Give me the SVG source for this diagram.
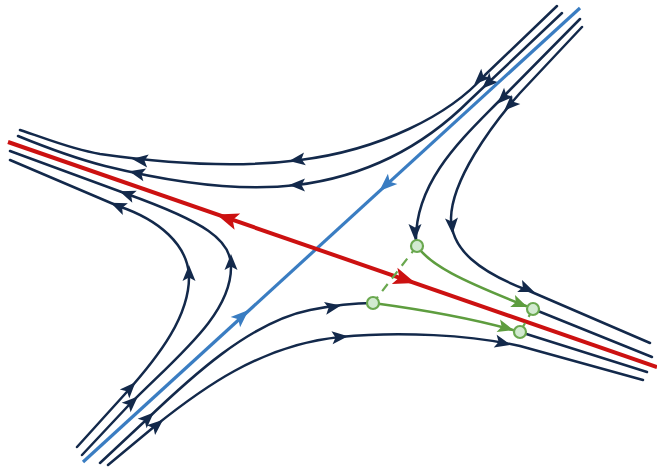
<svg xmlns="http://www.w3.org/2000/svg" xmlns:xlink="http://www.w3.org/1999/xlink" width="657" height="471" viewBox="0 0 657 471">
<style>
.traj{fill:none;stroke:#13294b;stroke-width:2.5;stroke-linecap:round;stroke-linejoin:round}
.red{fill:none;stroke:#cc1111;stroke-width:4;stroke-linecap:butt}
.blue{fill:none;stroke:#3a7dc2;stroke-width:3.2;stroke-linecap:butt}
.grn{fill:none;stroke:#5e9d3f;stroke-width:2.6;stroke-linecap:round}
.dash{fill:none;stroke:#6aa84f;stroke-width:2.2;stroke-dasharray:9,7}
.pt{fill:#d2ead0;stroke:#6aa84f;stroke-width:2.2}
</style>
<defs>
<path id="ahN" d="M8,0 L-8,-6.5 L-4.5,0 L-8,6.5 Z" fill="#13294b"/>
<path id="ahR" d="M11,0 L-11,-8.5 L-6,0 L-11,8.5 Z" fill="#cc1111"/>
<path id="ahB" d="M9,0 L-9,-7 L-5,0 L-9,7 Z" fill="#3a7dc2"/>
<path id="ahG" d="M8,0 L-8,-6.5 L-4.5,0 L-8,6.5 Z" fill="#5e9d3f"/>
</defs>
<rect width="657" height="471" fill="#ffffff"/>

<g id="connectors">
  <g id="top-outer">
    <path class="traj" d="M557,6 L485,75 C450,115 380,150 300,160 C240,168 170,164 100,154 C70,149 45,138 20,130"/>
    <use href="#ahN" transform="translate(480,79) rotate(136)"/>
    <use href="#ahN" transform="translate(297,160) rotate(172)"/>
    <use href="#ahN" transform="translate(140,160) rotate(187)"/>
  </g>
  <g id="top-inner">
    <path class="traj" d="M562,13 L470,100 C440,130 385,174 297,185 C240,192 170,182 105,166 C70,157 40,145 18,136"/>
    <use href="#ahN" transform="translate(488,83) rotate(137)"/>
    <use href="#ahN" transform="translate(297,185) rotate(180)"/>
    <use href="#ahN" transform="translate(137,173) rotate(193)"/>
  </g>
  <g id="left-inner">
    <path class="traj" d="M82,455 L128,406 C175,358 232,315 231,266 C231,240 205,222 127,194 L10,151"/>
    <use href="#ahN" transform="translate(132,402) rotate(-43)"/>
    <use href="#ahN" transform="translate(231,262) rotate(-90)"/>
    <use href="#ahN" transform="translate(127,194) rotate(200)"/>
  </g>
  <g id="left-outer">
    <path class="traj" d="M77,447 L125,394 C160,355 190,315 189,275 C187,245 160,220 118,206 L10,160"/>
    <use href="#ahN" transform="translate(130,388) rotate(-47)"/>
    <use href="#ahN" transform="translate(189,273) rotate(-90)"/>
    <use href="#ahN" transform="translate(118,206) rotate(203)"/>
  </g>
  <g id="bottom-inner">
    <path class="traj" d="M100,463 L145,421 C190,378 250,322 310,310 C335,305 355,303 373,303"/>
    <use href="#ahN" transform="translate(148,418) rotate(-43)"/>
    <use href="#ahN" transform="translate(333,307) rotate(-10)"/>
  </g>
  <g id="bottom-outer">
    <path class="traj" d="M108,465 L155,426 C200,390 260,345 340,337 C400,331 470,335 520,346 L643,380"/>
    <use href="#ahN" transform="translate(157,425) rotate(-40)"/>
    <use href="#ahN" transform="translate(340,337) rotate(-5)"/>
    <use href="#ahN" transform="translate(503,343) rotate(13)"/>
  </g>
  <g id="right-inner">
    <path class="traj" d="M580,19 L500,100 C465,136 415,180 416,241"/>
    <use href="#ahN" transform="translate(503,98) rotate(135)"/>
    <use href="#ahN" transform="translate(415,232) rotate(90)"/>
  </g>
  <g id="right-outer">
    <path class="traj" d="M582,27 L520,93 C490,127 452,180 451,218 C451,250 480,272 527,290 L650,343"/>
    <use href="#ahN" transform="translate(510,105) rotate(136)"/>
    <use href="#ahN" transform="translate(452,226) rotate(86)"/>
    <use href="#ahN" transform="translate(527,289) rotate(22)"/>
  </g>
  <path class="traj" d="M533,309 L652,357"/>
  <path class="traj" d="M520,332 L647,372"/>

  <g id="stable-manifold">
    <path class="blue" d="M580,8 L83,462"/>
    <use href="#ahB" transform="translate(386,185) rotate(137.6)"/>
    <use href="#ahB" transform="translate(242,316) rotate(-42.4)"/>
  </g>
  <g id="unstable-manifold">
    <path class="red" d="M8,142 L657,367"/>
    <use href="#ahR" transform="translate(227,218) rotate(199.1)"/>
    <use href="#ahR" transform="translate(405,279.5) rotate(19.1)"/>
  </g>

  <g id="green-connectors">
    <path class="dash" d="M417,246 L373,303"/>
    <path class="dash" d="M533,309 L520,332"/>
    <path class="grn" d="M417,246 C430,265 460,280 526,306"/>
    <use href="#ahG" transform="translate(520,304) rotate(21.7)"/>
    <path class="grn" d="M373,303 C410,308 470,318 513,330"/>
    <use href="#ahG" transform="translate(506,328) rotate(15.6)"/>
  </g>
</g>

<g id="p1"><circle class="pt" cx="417" cy="246" r="6"/></g>
<g id="p2"><circle class="pt" cx="373" cy="303" r="6"/></g>
<g id="p3"><circle class="pt" cx="533" cy="309" r="6"/></g>
<g id="p4"><circle class="pt" cx="520" cy="332" r="6"/></g>
</svg>
